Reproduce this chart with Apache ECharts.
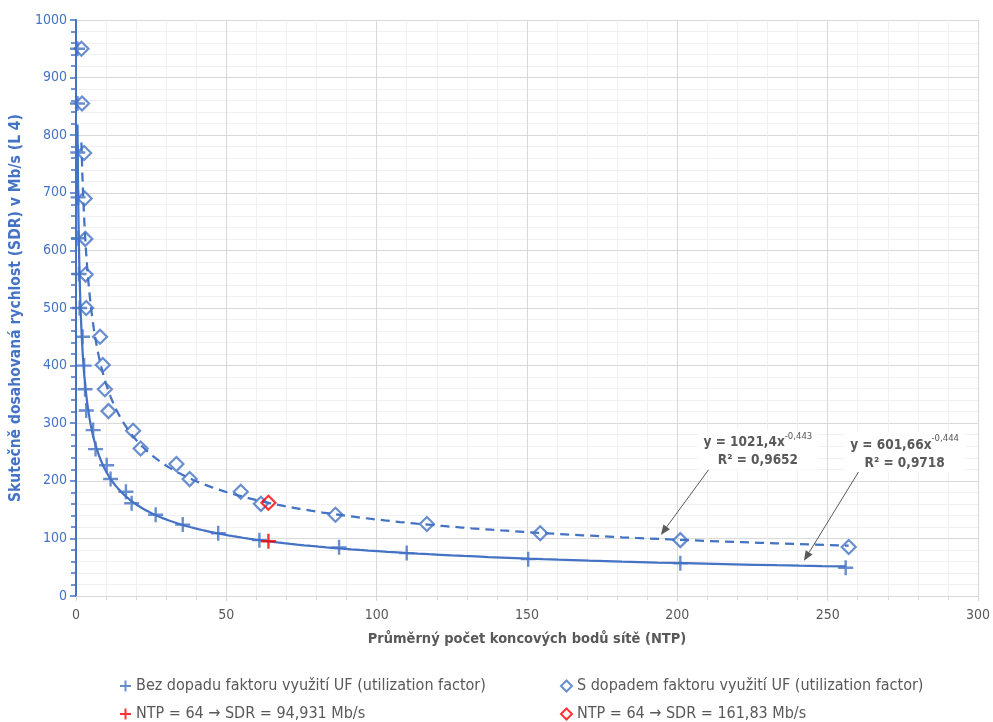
<!DOCTYPE html>
<html><head><meta charset="utf-8">
<script src="https://cdn.jsdelivr.net/npm/echarts@6/dist/echarts.min.js"></script>
<style>html,body{margin:0;padding:0;background:#fff}#c{width:993px;height:722px}</style>
</head><body><div id="c"></div>
<script>
// ---- data ----
const ntpBez = [0.5, 0.5, 0.6, 0.7, 0.8, 1.0, 1.2, 2.2, 2.7, 3.0, 3.4, 5.7, 6.5, 10.2, 11.5, 16.6, 18.5, 26.5, 35.5, 47.3, 61, 87.5, 110, 150.4, 201, 256];
const sdrBez = [950, 855, 770, 692, 621, 559, 500, 450, 400, 359, 322, 288, 255, 227, 203, 181, 161, 141, 124, 109, 97, 84.5, 74.5, 64, 56.7, 49];
const ntpS = [1.8, 2.0, 2.7, 2.9, 3.1, 3.2, 3.4, 8.0, 8.9, 9.6, 10.8, 19.0, 21.5, 33.4, 37.8, 54.8, 61.5, 86.3, 116.7, 154.4, 201, 257];
const sdrS = [950, 855, 769, 690, 620, 558, 500, 450, 401, 359, 321, 287, 256, 229, 203, 181, 160, 141, 125, 109, 97, 85];
const redBez = [64, 94.931];
const redS = [64, 161.83];
// power trendlines as printed on the chart
const fitBez = {a: 601.66, b: -0.444, eq: '601,66', exp: '-0,444', r2: '0,9718'};
const fitS = {a: 1021.4, b: -0.443, eq: '1021,4', exp: '-0,443', r2: '0,9652'};
const names = ['Bez dopadu faktoru využití UF (utilization factor)', 'S dopadem faktoru využití UF (utilization factor)', 'NTP = 64 → SDR = 94,931 Mb/s', 'NTP = 64 → SDR = 161,83 Mb/s'];
// annotation anchors (data coords): label centre, arrow start, arrow tip
const annS = {label: [226.8, 254], from: [211.5, 227], to: [194.5, 106]};
const annBez = {label: [275.6, 250], from: [261.4, 225], to: [242.1, 61]};

const BLUE = '#4472C4';
const FONT = '"Liberation Sans Narrow","DejaVu Sans Condensed",sans-serif';

function trend(fit, xs) {
  const lo = Math.min(...xs), hi = Math.max(...xs), pts = [];
  const n = 200;
  for (let i = 0; i <= n; i++) {
    const x = Math.exp(Math.log(lo) + (Math.log(hi) - Math.log(lo)) * i / n);
    pts.push([x, fit.a * Math.pow(x, fit.b)]);
  }
  return pts;
}
const zip = (a, b) => a.map((v, i) => [v, b[i]]);
const CROSS = 'path://M7,0L7,14M0,7L14,7';
const legendAt = (name, left, top) => ({
  left: left, top: top, itemWidth: 11, itemHeight: 11, itemGap: 0, data: [name],
  textStyle: {color: '#595959', fontSize: 16, fontFamily: FONT}
});

const chart = echarts.init(document.getElementById('c'));
chart.setOption({
  animation: false,
  textStyle: {fontFamily: FONT},
  grid: {left: 76, right: 14, top: 20, bottom: 126, containLabel: false},
  xAxis: {
    type: 'value', min: 0, max: 300, interval: 50,
    name: 'Průměrný počet koncových bodů sítě (NTP)', nameLocation: 'middle', nameGap: 36,
    nameTextStyle: {color: '#595959', fontWeight: 'bold', fontSize: 14.5, fontFamily: FONT},
    axisLine: {lineStyle: {color: '#d9d9d9', width: 1}},
    axisTick: {show: true, length: 5, lineStyle: {color: '#d9d9d9'}},
    minorTick: {show: true, splitNumber: 5, length: 4, lineStyle: {color: '#d9d9d9'}},
    axisLabel: {color: '#595959', fontSize: 14, margin: 12, fontFamily: FONT, formatter: v => String(v)},
    splitLine: {lineStyle: {color: '#d9d9d9'}},
    minorSplitLine: {show: true, lineStyle: {color: '#f0f0f0'}}
  },
  yAxis: {
    type: 'value', min: 0, max: 1000, interval: 100,
    name: 'Skutečně dosahovaná rychlost (SDR) v Mb/s (L 4)', nameLocation: 'middle', nameGap: 52,
    nameTextStyle: {color: BLUE, fontWeight: 'bold', fontSize: 15.5, fontFamily: FONT},
    axisLine: {show: true, lineStyle: {color: BLUE, width: 2}},
    axisTick: {show: true, length: 6, lineStyle: {color: BLUE, width: 1.5}},
    minorTick: {show: true, splitNumber: 5, length: 5, lineStyle: {color: BLUE, width: 1.5}},
    axisLabel: {color: BLUE, fontSize: 14, margin: 9, fontFamily: FONT, formatter: v => String(v)},
    splitLine: {lineStyle: {color: '#d9d9d9'}},
    minorSplitLine: {show: true, lineStyle: {color: '#f0f0f0'}}
  },
  legend: [
    legendAt(names[0], 114, 673),
    legendAt(names[1], 555, 673),
    legendAt(names[2], 114, 701),
    legendAt(names[3], 555, 701)
  ],
  series: [
    {name: 'trendS', type: 'line', data: trend(fitS, ntpS), showSymbol: false, symbol: 'none', silent: true,
     lineStyle: {color: BLUE, width: 2.25, type: [9, 6]}, z: 1},
    {name: 'trendBez', type: 'line', data: trend(fitBez, ntpBez), showSymbol: false, symbol: 'none', silent: true,
     lineStyle: {color: BLUE, width: 2.25}, z: 1},
    {name: names[0], type: 'scatter', data: zip(ntpBez, sdrBez), symbol: CROSS, symbolSize: 15,
     itemStyle: {color: 'rgba(0,0,0,0)', borderColor: BLUE, borderWidth: 2.4}, z: 3},
    {name: names[1], type: 'scatter', data: zip(ntpS, sdrS), symbol: 'diamond', symbolSize: 14,
     itemStyle: {color: 'rgba(255,255,255,0)', borderColor: BLUE, borderWidth: 2.2}, z: 3},
    {name: names[2], type: 'scatter', data: [redBez], symbol: CROSS, symbolSize: 15,
     itemStyle: {color: 'rgba(0,0,0,0)', borderColor: '#FF0000', borderWidth: 2.4}, z: 4},
    {name: names[3], type: 'scatter', data: [redS], symbol: 'diamond', symbolSize: 14,
     itemStyle: {color: 'rgba(255,255,255,0)', borderColor: '#FF0000', borderWidth: 2.2}, z: 4}
  ]
});

function annot(ann, fit) {
  const p = v => chart.convertToPixel({gridIndex: 0}, v);
  const c = p(ann.label), a = p(ann.from), b = p(ann.to);
  const ang = Math.atan2(b[1] - a[1], b[0] - a[0]);
  const L = 10, W = 4;
  const base = [b[0] - L * Math.cos(ang), b[1] - L * Math.sin(ang)];
  const nx = -Math.sin(ang), ny = Math.cos(ang);
  return [
    {type: 'line', z: 50, shape: {x1: a[0], y1: a[1], x2: base[0], y2: base[1]}, style: {stroke: '#595959', lineWidth: 1}},
    {type: 'polygon', z: 50, shape: {points: [b, [base[0] + nx * W, base[1] + ny * W], [base[0] - nx * W, base[1] - ny * W]]}, style: {fill: '#595959'}},
    {type: 'text', z: 51, x: c[0], y: c[1], style: {
      text: '{a|y = ' + fit.eq + 'x}{s|' + fit.exp + '}\n{a|R² = ' + fit.r2 + '}',
      align: 'center', verticalAlign: 'middle', backgroundColor: '#fff', padding: [2, 6, 2, 6],
      rich: {
        a: {fontFamily: FONT, fontWeight: 'bold', fontSize: 13.5, fill: '#595959', lineHeight: 18, verticalAlign: 'bottom'},
        s: {fontFamily: FONT, fontSize: 9.5, fill: '#595959', lineHeight: 18, verticalAlign: 'top', padding: [0, 0, 6, 0]}
      }
    }}
  ];
}
chart.setOption({graphic: annot(annS, fitS).concat(annot(annBez, fitBez))});
</script></body></html>
